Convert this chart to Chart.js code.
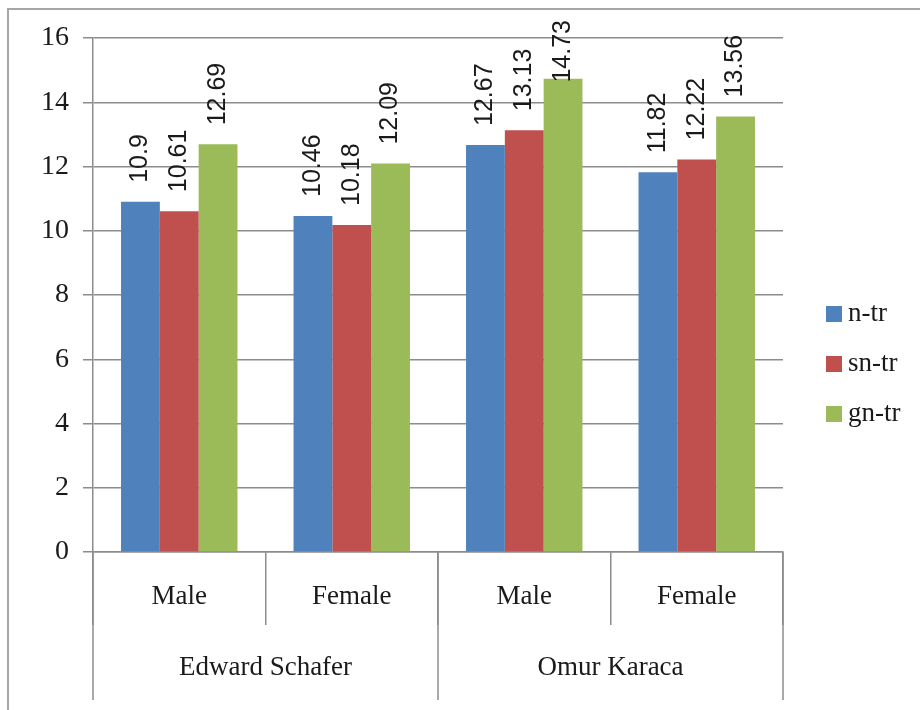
<!DOCTYPE html>
<html>
<head>
<meta charset="utf-8">
<script src="https://cdn.jsdelivr.net/npm/chart.js@4/dist/chart.umd.min.js"></script>
<style>
  html, body { margin: 0; padding: 0; background: #fff; }
  #wrap { width: 920px; height: 710px; }
</style>
</head>
<body>
<div id="wrap"><canvas id="chart" width="920" height="710"></canvas></div>
<script>
// data
var groups = ["Edward Schafer", "Omur Karaca"];
var subLabels = ["Male", "Female", "Male", "Female"];
var seriesNames = ["n-tr", "sn-tr", "gn-tr"];
var nTr = [10.9, 10.46, 12.67, 11.82];
var snTr = [10.61, 10.18, 13.13, 12.22];
var gnTr = [12.69, 12.09, 14.73, 13.56];
var colors = ["#4F81BD", "#C0504D", "#9BBB59"];

var serif = "'Liberation Serif', 'DejaVu Serif', serif";
var sans = "'Liberation Sans', Arial, sans-serif";
var gridColor = "#8c8c8c";

// labels rotated above each bar, pushed down if they would leave the frame
var barLabels = {
  id: "barLabels",
  afterDatasetsDraw: function (chart) {
    var ctx = chart.ctx;
    ctx.save();
    ctx.fillStyle = "#1a1a1a";
    ctx.font = "25px " + sans;
    ctx.textAlign = "left";
    ctx.textBaseline = "middle";
    chart.data.datasets.forEach(function (ds, i) {
      var meta = chart.getDatasetMeta(i);
      meta.data.forEach(function (bar, j) {
        var txt = String(ds.data[j]);
        var w = ctx.measureText(txt).width;
        var start = bar.y - 19;
        if (start - w < 20) start = 20 + w;
        ctx.save();
        ctx.translate(bar.x, start);
        ctx.rotate(-Math.PI / 2);
        ctx.fillText(txt, 0, 0);
        ctx.restore();
      });
    });
    ctx.restore();
  }
};

// outer frame, group level of the category axis, legend
var extras = {
  id: "extras",
  beforeDraw: function (chart) {
    var ctx = chart.ctx;
    ctx.save();
    ctx.strokeStyle = "#a6a6a6";
    ctx.lineWidth = 2;
    ctx.strokeRect(8, 9, 2000, 2000);
    ctx.restore();
  },
  afterDraw: function (chart) {
    var ctx = chart.ctx;
    var x = chart.scales.x;
    var area = chart.chartArea;
    var half = (x.getPixelForValue(1) - x.getPixelForValue(0)) / 2;
    ctx.save();
    ctx.strokeStyle = gridColor;
    ctx.lineWidth = 1.5;
    // group boundaries go down further
    var bounds = [0, 2, 4];
    bounds.forEach(function (b) {
      var px = b < subLabels.length ? x.getPixelForValue(b) - half : x.getPixelForValue(b - 1) + half;
      ctx.beginPath();
      ctx.moveTo(px, area.bottom);
      ctx.lineTo(px, 700);
      ctx.stroke();
    });
    ctx.fillStyle = "#1a1a1a";
    ctx.font = "27px " + serif;
    ctx.textAlign = "center";
    ctx.textBaseline = "middle";
    groups.forEach(function (g, i) {
      var cx = (x.getPixelForValue(i * 2) + x.getPixelForValue(i * 2 + 1)) / 2;
      ctx.fillText(g, cx, 668);
    });
    // legend
    ctx.textAlign = "left";
    seriesNames.forEach(function (name, i) {
      var cy = 314 + i * 50;
      ctx.fillStyle = colors[i];
      ctx.fillRect(826, cy - 8, 16, 16);
      ctx.fillStyle = "#1a1a1a";
      ctx.fillText(name, 848, cy);
    });
    ctx.restore();
  }
};

new Chart(document.getElementById("chart"), {
  type: "bar",
  data: {
    labels: subLabels,
    datasets: [
      { label: seriesNames[0], data: nTr, backgroundColor: colors[0] },
      { label: seriesNames[1], data: snTr, backgroundColor: colors[1] },
      { label: seriesNames[2], data: gnTr, backgroundColor: colors[2] }
    ]
  },
  options: {
    responsive: false,
    animation: false,
    layout: { padding: { top: 38, right: 137, left: 0, bottom: 0 } },
    datasets: { bar: { barPercentage: 1, categoryPercentage: 0.675 } },
    plugins: {
      legend: { display: false },
      tooltip: { enabled: false }
    },
    scales: {
      x: {
        offset: true,
        grid: {
          offset: true,
          drawOnChartArea: false,
          color: gridColor,
          lineWidth: 1.5,
          tickLength: 73
        },
        border: { color: gridColor, width: 1.5 },
        ticks: {
          padding: -44,
          color: "#1a1a1a",
          font: { family: serif, size: 27 },
          maxRotation: 0
        },
        afterFit: function (scale) { scale.height = 158; }
      },
      y: {
        min: 0,
        max: 16,
        grid: { color: gridColor, lineWidth: 1.5, tickLength: 10 },
        border: { color: gridColor, width: 1.5 },
        ticks: {
          stepSize: 2,
          padding: 14,
          color: "#1a1a1a",
          font: { family: serif, size: 28 }
        },
        afterFit: function (scale) { scale.width = 93; }
      }
    }
  },
  plugins: [barLabels, extras]
});
</script>
</body>
</html>
